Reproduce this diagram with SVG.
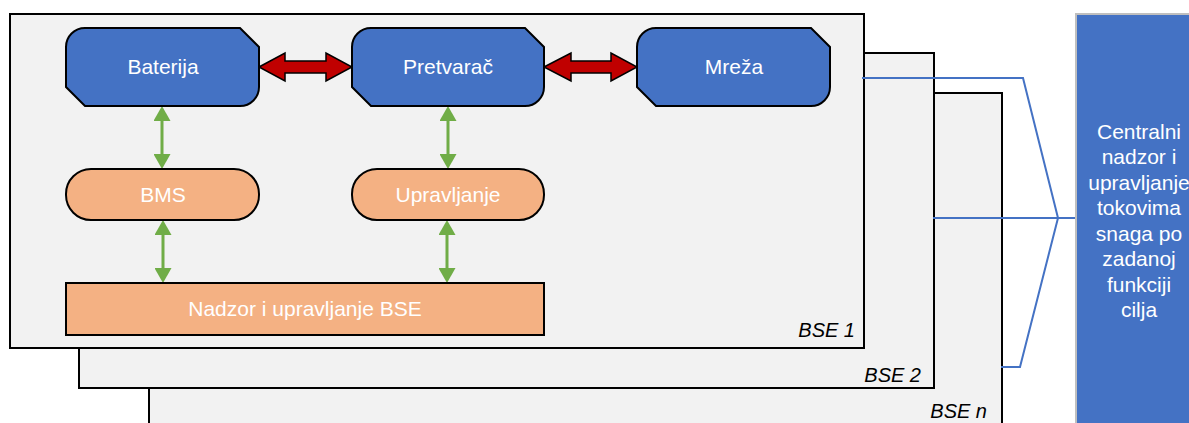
<svg xmlns="http://www.w3.org/2000/svg" width="1189" height="423" viewBox="0 0 1189 423">
<style>
.panel{fill:#F2F2F2;stroke:#000;stroke-width:2}
.blue{fill:#4472C4;stroke:#000;stroke-width:2}
.orange{fill:#F4B183;stroke:#000;stroke-width:2}
.lbl{font-family:"Liberation Sans",Arial,sans-serif;font-size:21px;fill:#fff;text-anchor:middle}
.bse{font-family:"Liberation Sans",Arial,sans-serif;font-size:20px;font-style:italic;fill:#000;text-anchor:end}
.red{fill:#C00000;stroke:#000;stroke-width:1.5;stroke-linejoin:miter}
.green{stroke:#70AD47;stroke-width:3;fill:none;marker-start:url(#gh);marker-end:url(#gh)}
.link{stroke:#4472C4;stroke-width:2;fill:none}
</style>
<defs>
<marker id="gh" viewBox="0 0 15 17" refX="11" refY="8.5" markerWidth="15" markerHeight="17" markerUnits="userSpaceOnUse" orient="auto-start-reverse">
<path d="M0,0 L15,8.5 L0,17 Z" fill="#70AD47"/>
</marker>
</defs>
<rect width="1189" height="423" fill="#fff"/>
<g id="bse-n">
<rect class="panel" x="149" y="93" width="853" height="345"/>
<text class="bse" x="987" y="418">BSE n</text>
</g>
<g id="bse-2">
<rect class="panel" x="79" y="53" width="855" height="335"/>
<text class="bse" x="921" y="382">BSE 2</text>
</g>
<g id="bse-1">
<rect class="panel" x="10" y="14" width="854" height="334"/>
<text class="bse" x="855" y="337">BSE 1</text>
</g>
<g id="connectors">
<path class="red" d="M259,67 L285,53 L285,61 L326,61 L326,53 L352,67 L326,81 L326,73 L285,73 L285,81 Z"/>
<path class="red" d="M544,67 L571,53 L571,61 L611,61 L611,53 L637,67 L611,81 L611,73 L571,73 L571,81 Z"/>
<line class="green" x1="162" y1="110" x2="162" y2="165"/>
<line class="green" x1="448" y1="110" x2="448" y2="165"/>
<line class="green" x1="163" y1="224" x2="163" y2="279"/>
<line class="green" x1="447" y1="224" x2="447" y2="279"/>
<polyline class="link" points="862,78 1023,78 1058,218 1020,367 1001,367"/>
<line class="link" x1="933" y1="218" x2="1076" y2="218"/>
</g>
<g id="baterija">
<path class="blue" d="M85,28 L240,28 L259,47 L259,87 A19,19 0 0 1 240,106 L85,106 L66,87 L66,47 A19,19 0 0 1 85,28 Z"/>
<text class="lbl" x="163" y="74">Baterija</text>
</g>
<g id="pretvarac">
<path class="blue" d="M371,28 L525,28 L544,47 L544,87 A19,19 0 0 1 525,106 L371,106 L352,87 L352,47 A19,19 0 0 1 371,28 Z"/>
<text class="lbl" x="448" y="74">Pretvarač</text>
</g>
<g id="mreza">
<path class="blue" d="M656,28 L811,28 L830,47 L830,87 A19,19 0 0 1 811,106 L656,106 L637,87 L637,47 A19,19 0 0 1 656,28 Z"/>
<text class="lbl" x="734" y="74">Mreža</text>
</g>
<g id="bms">
<rect class="orange" x="66" y="169" width="193" height="51" rx="25" ry="25"/>
<text class="lbl" x="163" y="202">BMS</text>
</g>
<g id="upravljanje">
<rect class="orange" x="352" y="169" width="192" height="51" rx="25" ry="25"/>
<text class="lbl" x="448" y="202">Upravljanje</text>
</g>
<g id="nadzor">
<rect class="orange" x="66" y="283" width="478" height="52"/>
<text class="lbl" x="305" y="316">Nadzor i upravljanje BSE</text>
</g>
<g id="centralni">
<rect x="1076" y="14" width="130" height="430" fill="#4472C4" stroke="#BFBFBF" stroke-width="2"/>
<text class="lbl" x="1139" y="138.5">Centralni</text>
<text class="lbl" x="1139" y="164">nadzor i</text>
<text class="lbl" x="1139" y="189.5">upravljanje</text>
<text class="lbl" x="1139" y="215">tokovima</text>
<text class="lbl" x="1139" y="240.5">snaga po</text>
<text class="lbl" x="1139" y="266">zadanoj</text>
<text class="lbl" x="1139" y="291.5">funkciji</text>
<text class="lbl" x="1139" y="317">cilja</text>
</g>
</svg>
